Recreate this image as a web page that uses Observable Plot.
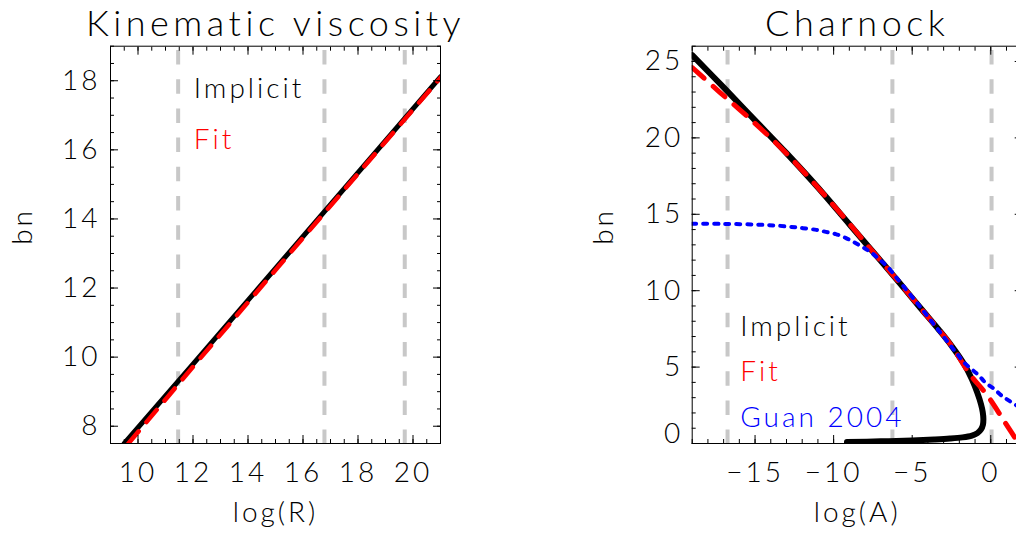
<!DOCTYPE html>
<html><head><meta charset="utf-8">
<script src="https://cdn.jsdelivr.net/npm/d3@7"></script>
<script src="https://cdn.jsdelivr.net/npm/@observablehq/plot@0.6"></script>
<style>
html,body{margin:0;padding:0;background:#fff;overflow:hidden;width:1016px;height:539px}
#wrap{position:relative;width:1016px;height:539px;overflow:hidden;background:#fff}
#left{position:absolute;left:0;top:0;width:508px;height:539px}
#right{position:absolute;left:508px;top:0;width:530px;height:539px}
svg text{-webkit-font-smoothing:antialiased}
</style></head><body><div id="wrap"><div id="left"></div><div id="right"></div></div>
<script>
// ---------- Left panel: Kinematic viscosity ----------
const kvTitle = "Kinematic viscosity";
const kvXLabel = "log(R)";
const kvYLabel = "bn";
const kvXMajor = [10, 12, 14, 16, 18, 20];
const kvYMajor = [8, 10, 12, 14, 16, 18];
const kvImplicitLogR = [9.5, 12, 15, 18, 21];
const kvImplicitBn   = [7.50, 9.80, 12.57, 15.34, 18.11];
const kvFitLogR = [9.65, 12, 15, 18, 21];
const kvFitBn   = [7.50, 9.72, 12.52, 15.31, 18.09];
const kvGuides = [11.46, 16.78, 19.70];
const kvLegend = ["Implicit", "Fit"];

// ---------- Right panel: Charnock ----------
const chTitle = "Charnock";
const chXLabel = "log(A)";
const chYLabel = "bn";
const chXMajor = [-15, -10, -5, 0];
const chYMajor = [5, 10, 15, 20, 25];
const chYZero = [0];
const chImplicitLogA = [-19, -17, -15, -13, -11, -9, -7.5, -6, -4.5, -3.3, -2.5, -1.7, -1.2, -0.85, -0.63, -0.51, -0.47, -0.5, -0.62, -0.85, -1.2, -1.8, -2.6, -3.6, -5, -7, -9.15];
const chImplicitBn   = [25.42, 23.3, 21.15, 19.0, 16.75, 14.35, 12.55, 10.75, 8.9, 7.44, 6.4, 5.2, 4.2, 3.3, 2.6, 2.05, 1.6, 1.22, 0.92, 0.68, 0.52, 0.4, 0.32, 0.26, 0.2, 0.14, 0.1];
const chFitLogA = [-19, -17.26, -15, -13, -11, -9, -7.5, -6, -4.5, -3.3, -2.5, -1.35, -0.19, 0.88, 2];
const chFitBn   = [24.6, 23.0, 20.95, 18.98, 16.75, 14.38, 12.55, 10.75, 8.9, 7.44, 6.4, 4.56, 3.1, 1.42, -0.35];
const chGuanLogA = [-19, -17, -15, -13.5, -12.2, -11.1, -10.5, -9.86, -9.24, -8.67, -8.12, -7.59, -7.08, -6.55, -6, -4.5, -3.3, -2.56, -2.14, -1.72, -0.76, -0.33, 0.2, 0.68, 1.21, 2];
const chGuanBn   = [14.38, 14.37, 14.33, 14.25, 14.12, 13.98, 13.85, 13.7, 13.46, 13.15, 12.83, 12.48, 12.04, 11.55, 10.85, 8.95, 7.38, 6.41, 5.87, 5.32, 4.45, 3.97, 3.58, 3.14, 2.77, 2.25];
const chGuides = [-16.75, -6.26, 0.05];
const chLegend = ["Implicit", "Fit", "Guan 2004"];

const FONT = 28;
const pts = (xs, ys) => xs.map((x, i) => ({x, y: ys[i]}));
const minus = d => d < 0 ? "\u2212" + (-d) : String(d);

function panel(c) {
  const marks = [
    Plot.ruleX(c.guides, {stroke: "#c8c8c8", strokeWidth: 4, strokeDasharray: "14.5,14.7", strokeDashoffset: 24.9}),
    ...c.series.map(s => Plot.line(pts(s.x, s.y), {x: "x", y: "y", stroke: s.color, strokeWidth: s.width,
      strokeDasharray: s.dash, strokeDashoffset: s.offset || 0, curve: s.curve || "linear", clip: true})),
    Plot.frame({stroke: "black", strokeWidth: 1}),
    Plot.axisX(c.xMajor, {anchor: "bottom", tickSize: 8, dy: -8, fill: "none", label: null}),
    Plot.axisX(c.xMajor, {anchor: "top", tickSize: 8, dy: 8, fill: "none", label: null}),
    Plot.axisX(c.xMinor, {anchor: "bottom", tickSize: 4, dy: -4, fill: "none", label: null}),
    Plot.axisX(c.xMinor, {anchor: "top", tickSize: 4, dy: 4, fill: "none", label: null}),
    Plot.axisY(c.yTicks, {anchor: "left", tickSize: 8, dx: 8, fill: "none", label: null}),
    Plot.axisY(c.yTicks, {anchor: "right", tickSize: 8, dx: -8, fill: "none", label: null}),
    Plot.axisY(c.yMinor, {anchor: "left", tickSize: 4, dx: 4, fill: "none", label: null}),
    Plot.axisY(c.yMinor, {anchor: "right", tickSize: 4, dx: -4, fill: "none", label: null}),
    Plot.axisX(c.xMajor, {anchor: "bottom", tickSize: 0, tickPadding: 19, label: null, fontSize: FONT, tickFormat: c.xFormat || (d => String(d))}),
    Plot.axisY(c.yMajor, {anchor: "left", tickSize: 0, tickPadding: c.yPad, label: null, fontSize: FONT}),
    Plot.text([c.title], {text: d => d, frameAnchor: "top", dy: -10.7, lineAnchor: "bottom", fontSize: 36}),
    Plot.text([c.xLabel], {text: d => d, frameAnchor: "bottom", dy: 78, lineAnchor: "bottom", fontSize: FONT}),
    Plot.text([c.yLabel], {text: d => d, frameAnchor: "left", dx: c.yLabelDx, rotate: -90, lineAnchor: "bottom", fontSize: FONT}),
    ...c.legend.map((t, i) => Plot.text([t], {text: d => d, frameAnchor: "top-left", dx: c.legendDx, dy: c.legendDy[i],
      textAnchor: "start", lineAnchor: "bottom", fill: c.legendColors[i], fontSize: FONT}))
  ];
  if (c.extra) marks.push(...c.extra);
  const svg = Plot.plot({
    width: c.width, height: 539,
    marginLeft: c.marginLeft, marginRight: c.marginRight, marginTop: 45.7, marginBottom: 96,
    x: {domain: c.xDomain}, y: {domain: c.yDomain},
    style: {fontFamily: "Lato, 'DejaVu Sans', sans-serif", fontWeight: 300, letterSpacing: "3px", maxWidth: "none", background: "white", color: "black"},
    marks
  });
  d3.select(svg).selectAll("text").filter(function () { return this.textContent === c.title; })
    .style("letter-spacing", "4.5px");
  return svg;
}

const left = panel({
  width: 508, marginLeft: 110, marginRight: 68,
  xDomain: [9, 21], yDomain: [7.5, 19],
  xMajor: kvXMajor, xMinor: d3.range(9, 21.001, 0.5),
  yMajor: kvYMajor, yTicks: kvYMajor, yMinor: d3.range(7.5, 19.001, 0.5), yPad: 10,
  guides: kvGuides,
  series: [
    {x: kvImplicitLogR, y: kvImplicitBn, color: "black", width: 5},
    {x: kvFitLogR, y: kvFitBn, color: "#ff0000", width: 4.5, dash: "16,12"}
  ],
  title: kvTitle, xLabel: kvXLabel, yLabel: kvYLabel, yLabelDx: -78.3,
  legend: kvLegend, legendColors: ["black", "#ff0000"], legendDx: 83.3, legendDy: [51.6, 102.6]
});

const right = panel({
  width: 530, marginLeft: 183.7, marginRight: 16.3,
  xDomain: [-19, 2], yDomain: [0, 26],
  xMajor: chXMajor, xMinor: d3.range(-19, 2.001, 1), xFormat: minus,
  yMajor: chYMajor, yTicks: [0, ...chYMajor], yMinor: d3.range(0, 26.001, 1), yPad: 9,
  guides: chGuides,
  series: [
    {x: chImplicitLogA, y: chImplicitBn, color: "black", width: 6, curve: "catmull-rom"},
    {x: chFitLogA, y: chFitBn, color: "#ff0000", width: 5, dash: "16,12", curve: "catmull-rom"},
    {x: chGuanLogA, y: chGuanBn, color: "#0000ff", width: 4, dash: "4,7", curve: "catmull-rom"}
  ],
  title: chTitle, xLabel: chXLabel, yLabel: chYLabel, yLabelDx: -78.7,
  legend: chLegend, legendColors: ["black", "#ff0000", "#0000ff"], legendDx: 48, legendDy: [289.3, 334.3, 381],
  extra: [Plot.axisY(chYZero, {anchor: "left", tickSize: 0, tickPadding: 9, dy: -9, label: null, fontSize: FONT})]
});

document.getElementById("left").appendChild(left);
document.getElementById("right").appendChild(right);
</script></body></html>
